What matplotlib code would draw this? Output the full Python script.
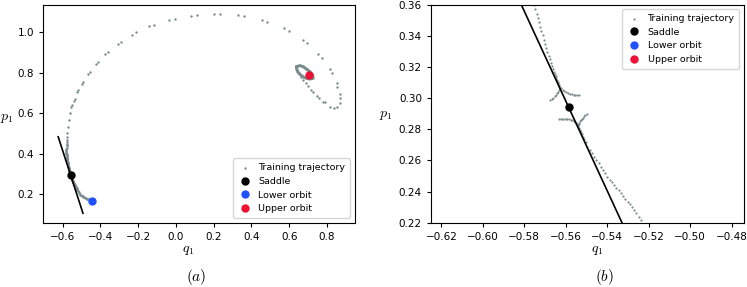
import matplotlib
matplotlib.use("Agg")
import matplotlib.pyplot as plt
import numpy as np

plt.rcParams['mathtext.fontset'] = 'cm'

# ---------------- data ----------------
saddle = (-0.5586, 0.2941)
lower_orbit = (-0.445, 0.166)
upper_orbit = (0.704, 0.787)
eig_dir = (0.328, -0.945)      # direction of the black eigenvector line
eig_half_len = 0.2

# upper branch of training trajectory near saddle (from top towards the saddle)
upper_trail_q = [-0.5753, -0.5747, -0.5741, -0.5735, -0.5729, -0.5723, -0.5717, -0.5711, -0.5705,
                 -0.5700, -0.5694, -0.5689, -0.5683, -0.5678, -0.5673, -0.5667, -0.5662, -0.5658,
                 -0.5653, -0.5649, -0.5645, -0.5641, -0.5638, -0.5635, -0.5633, -0.5631]
upper_trail_p = [0.3598, 0.3570, 0.3542, 0.3514, 0.3486, 0.3458, 0.3430, 0.3402, 0.3375,
                 0.3348, 0.3322, 0.3297, 0.3273, 0.3250, 0.3228, 0.3207, 0.3188, 0.3170,
                 0.3154, 0.3139, 0.3126, 0.3114, 0.3104, 0.3095, 0.3087, 0.3080]
# upper cusp branches
ucusp_left_q = [-0.5630, -0.5633, -0.5637, -0.5642, -0.5648, -0.5654, -0.5661, -0.5668, -0.5675]
ucusp_left_p = [0.3062, 0.3050, 0.3040, 0.3030, 0.3020, 0.3011, 0.3003, 0.2996, 0.2990]
ucusp_right_q = [-0.5622, -0.5615, -0.5607, -0.5598, -0.5589, -0.5580, -0.5571, -0.5562, -0.5553, -0.5544, -0.5537]
ucusp_right_p = [0.3062, 0.3052, 0.3044, 0.3037, 0.3031, 0.3027, 0.3024, 0.3022, 0.3021, 0.3020, 0.3020]
# lower cusp branches
lcusp_left_q = [-0.5632, -0.5624, -0.5616, -0.5608, -0.5600, -0.5592, -0.5584, -0.5576, -0.5568,
                -0.5561, -0.5555, -0.5549, -0.5545, -0.5542]
lcusp_left_p = [0.2866, 0.2867, 0.2868, 0.2868, 0.2867, 0.2866, 0.2864, 0.2861, 0.2857,
                0.2852, 0.2847, 0.2841, 0.2835, 0.2830]
lcusp_right_q = [-0.5537, -0.5534, -0.5531, -0.5527, -0.5522, -0.5517, -0.5511, -0.5505, -0.5499]
lcusp_right_p = [0.2835, 0.2843, 0.2851, 0.2859, 0.2867, 0.2875, 0.2883, 0.2889, 0.2895]
# lower trail from saddle towards lower orbit
lower_trail_q = [-0.5539, -0.5535, -0.5531, -0.5527, -0.5522, -0.5517, -0.5511, -0.5504,
                 -0.5496, -0.5485, -0.5474, -0.5463, -0.5452, -0.5442,
                 -0.5431, -0.5420, -0.5410, -0.5399, -0.5388, -0.5378, -0.5367, -0.5356, -0.5345,
                 -0.5334, -0.5323, -0.5313, -0.5302, -0.5291, -0.5281, -0.5270, -0.5259, -0.5249,
                 -0.5238, -0.5215, -0.5190, -0.5162, -0.5132, -0.5100, -0.5066, -0.5030, -0.4992,
                 -0.4953, -0.4912, -0.4870, -0.4827, -0.4783, -0.4738, -0.4692, -0.4645, -0.4598,
                 -0.4550, -0.4502, -0.4455]
lower_trail_p = [0.2820, 0.2808, 0.2795, 0.2782, 0.2768, 0.2753, 0.2737, 0.2720,
                 0.2688, 0.2667, 0.2645, 0.2624, 0.2603, 0.2581,
                 0.2560, 0.2538, 0.2517, 0.2495, 0.2477, 0.2460, 0.2442, 0.2424, 0.2407,
                 0.2389, 0.2371, 0.2353, 0.2335, 0.2317, 0.2299, 0.2281, 0.2260, 0.2238,
                 0.2217, 0.2170, 0.2125, 0.2082, 0.2042, 0.2005, 0.1970, 0.1938, 0.1908,
                 0.1880, 0.1855, 0.1832, 0.1811, 0.1792, 0.1775, 0.1760, 0.1746, 0.1733,
                 0.1721, 0.1710, 0.1700]
# continuation of the upper branch above the zoom window and the big arc
arc_q = [-0.5758, -0.5763, -0.5768, -0.5773, -0.5778, -0.5782, -0.5786, -0.5790, -0.5793, -0.5796,
         -0.5799, -0.5801, -0.5803, -0.5804, -0.5805, -0.5805, -0.5804, -0.5803, -0.5800, -0.5797,
         -0.5793, -0.5788, -0.5782, -0.5775, -0.5790, -0.577, -0.572, -0.567, -0.562,
         -0.555, -0.551, -0.540, -0.537, -0.523, -0.517, -0.499, -0.493, -0.465, -0.457,
         -0.425, -0.415, -0.374, -0.359, -0.309, -0.291, -0.233, -0.210, -0.141, -0.117,
         -0.035, -0.007, 0.079, 0.110, 0.203, 0.235, 0.330, 0.362, 0.457, 0.484,
         0.572, 0.599, 0.674, 0.695, 0.754, 0.772, 0.816, 0.826, 0.851, 0.856,
         0.869, 0.872, 0.869, 0.856, 0.838, 0.817, 0.789, 0.780, 0.757, 0.745,
         0.727, 0.715, 0.698, 0.687, 0.674, 0.662]
arc_p = [0.3620, 0.3645, 0.3670, 0.3695, 0.3720, 0.3750, 0.3780, 0.3810, 0.3845, 0.3880,
         0.3915, 0.3955, 0.3995, 0.4040, 0.4085, 0.4135, 0.4185, 0.4240, 0.4300, 0.4360,
         0.4425, 0.4495, 0.4570, 0.4650, 0.4820, 0.500, 0.533, 0.567, 0.600,
         0.632, 0.640, 0.661, 0.670, 0.703, 0.713, 0.746, 0.755, 0.794, 0.805,
         0.843, 0.854, 0.893, 0.904, 0.942, 0.953, 0.988, 1.000, 1.030, 1.038,
         1.061, 1.067, 1.082, 1.086, 1.091, 1.091, 1.084, 1.079, 1.061, 1.052,
         1.020, 1.008, 0.962, 0.946, 0.891, 0.874, 0.818, 0.800, 0.748, 0.731,
         0.693, 0.673, 0.649, 0.632, 0.624, 0.632, 0.653, 0.656, 0.676, 0.686,
         0.703, 0.714, 0.736, 0.748, 0.764, 0.780]
# dense loop around the upper orbit
loop_q = [0.639, 0.657, 0.674, 0.692, 0.710, 0.724, 0.727, 0.710, 0.692, 0.674, 0.657, 0.645, 0.639, 0.639]
loop_p = [0.830, 0.835, 0.830, 0.818, 0.805, 0.789, 0.772, 0.769, 0.772, 0.780, 0.792, 0.805, 0.822, 0.830]

xlim_a = (-0.703, 0.948)
ylim_a = (0.058, 1.137)
xlim_b = (-0.625, -0.474)
ylim_b = (0.22, 0.36)
yticks_b = [0.22, 0.24, 0.26, 0.28, 0.30, 0.32, 0.34, 0.36]
xticks_b = [-0.62, -0.60, -0.58, -0.56, -0.54, -0.52, -0.50, -0.48]

grey = '#7b8c8c'
blue = '#2150ff'
red = '#ee1133'

traj_q = np.concatenate([upper_trail_q, ucusp_left_q, ucusp_right_q, lcusp_left_q,
                         lcusp_right_q, lower_trail_q, arc_q])
traj_p = np.concatenate([upper_trail_p, ucusp_left_p, ucusp_right_p, lcusp_left_p,
                         lcusp_right_p, lower_trail_p, arc_p])

fig = plt.figure(figsize=(7.47, 2.87), dpi=100)
ax_a = fig.add_axes([0.058, 0.224, 0.417, 0.760])
ax_b = fig.add_axes([0.577, 0.224, 0.419, 0.760])

for ax, loc, dot_s in [(ax_a, 'lower right', 3.0), (ax_b, 'upper right', 2.5)]:
    ax.plot(loop_q, loop_p, color=grey, lw=2.2, solid_capstyle='round', zorder=2)
    ax.scatter(traj_q, traj_p, s=dot_s, color=grey, linewidths=0, zorder=2,
               label='Training trajectory')
    lq = [saddle[0] - eig_half_len * eig_dir[0], saddle[0] + eig_half_len * eig_dir[0]]
    lp = [saddle[1] - eig_half_len * eig_dir[1], saddle[1] + eig_half_len * eig_dir[1]]
    ax.plot(lq, lp, color='black', lw=1.2, zorder=3)
    ax.plot([saddle[0]], [saddle[1]], 'o', color='black', ms=5, zorder=4, label='Saddle', linestyle='none')
    ax.plot([lower_orbit[0]], [lower_orbit[1]], 'o', color=blue, ms=5, zorder=4, label='Lower orbit', linestyle='none')
    ax.plot([upper_orbit[0]], [upper_orbit[1]], 'o', color=red, ms=5, zorder=4, label='Upper orbit', linestyle='none')
    ax.tick_params(labelsize=7.5, length=3, width=0.8)
    leg = ax.legend(loc=loc, fontsize=6.8, markerscale=1.0, handletextpad=0.6,
                    borderpad=0.5, labelspacing=0.5, handlelength=1.6)
    for sp in ax.spines.values():
        sp.set_linewidth(0.8)

ax_a.set_xlim(*xlim_a)
ax_a.set_ylim(*ylim_a)
ax_a.set_xticks([-0.6, -0.4, -0.2, 0.0, 0.2, 0.4, 0.6, 0.8])
ax_a.set_yticks([0.2, 0.4, 0.6, 0.8, 1.0])

ax_b.set_xlim(*xlim_b)
ax_b.set_ylim(*ylim_b)
ax_b.set_xticks(xticks_b)
ax_b.set_yticks(yticks_b)
ax_b.set_xticklabels([f"{v:.2f}".replace('-', '\u2212') for v in xticks_b])
ax_b.set_yticklabels([f"{v:.2f}" for v in yticks_b])

fig.text(188 / 747, 1 - 250 / 287, r'$q_1$', fontsize=10, ha='center', va='center')
fig.text(596.7 / 747, 1 - 250 / 287, r'$q_1$', fontsize=10, ha='center', va='center')
fig.text(7 / 747, 1 - 118 / 287, r'$p_1$', fontsize=10, ha='center', va='center')
fig.text(386 / 747, 1 - 115 / 287, r'$p_1$', fontsize=10, ha='center', va='center')
fig.text(196.7 / 747, 1 - 276.7 / 287, r'$(a)$', fontsize=11, ha='center', va='center')
fig.text(604 / 747, 1 - 276.7 / 287, r'$(b)$', fontsize=11, ha='center', va='center')

fig.savefig('out.png', dpi=100)
